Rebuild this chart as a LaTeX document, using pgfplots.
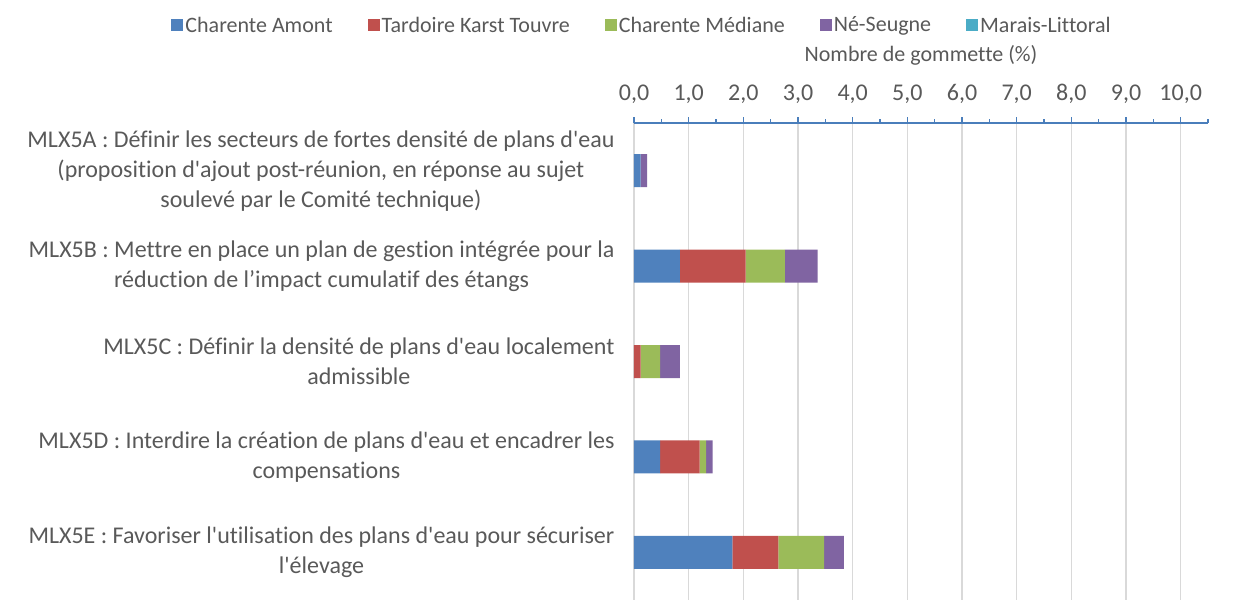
\documentclass[border=0pt]{standalone}
\usepackage{pgfplots}
\pgfplotsset{compat=1.18}
\usepackage{fontspec}
\setmainfont{Carlito}[Ligatures={NoCommon}]

\definecolor{cAmont}{HTML}{4F81BD}
\definecolor{cTard}{HTML}{C0504D}
\definecolor{cMed}{HTML}{9BBB59}
\definecolor{cNe}{HTML}{8064A2}
\definecolor{cMar}{HTML}{4BACC6}
\definecolor{txt}{HTML}{595959}
\definecolor{axl}{HTML}{4A7EBB}
\definecolor{grd}{HTML}{D9D9D9}

\begin{document}
\begin{tikzpicture}
\useasboundingbox (-634pt,-14pt) rectangle (604pt,600pt);
\begin{axis}[
  width=574pt, height=477pt, scale only axis,
  xbar stacked, bar width=33pt,
  xmin=0, xmax=10.5, ymin=-0.5, ymax=4.5, y dir=reverse,
  axis x line*=top, axis y line*=left,
  x axis line style={axl, line width=1.2pt},
  y axis line style={draw=none},
  xtick={0,1,...,10}, minor xtick={0.5,1.5,...,10.5},
  xtick align=outside, major tick length=6pt, minor tick length=4pt,
  xtick style={axl, line width=1.2pt},
  ytick style={draw=none},
  xmajorgrids, major grid style={grd, line width=1.5pt},
  xticklabel style={font=\fontsize{24}{28}\selectfont, text=txt, yshift=10pt},
  /pgf/number format/.cd, fixed, fixed zerofill, precision=1, use comma, assume math mode=true,
  /pgfplots/.cd,
  xlabel={Nombre de gommette (\%)},
  xlabel style={font=\fontsize{22}{26}\selectfont, text=txt, yshift=12pt},
  ytick={0,1,2,3,4},
  yticklabels={
    {MLX5A : Définir les secteurs de fortes densité de plans d\textquotesingle eau\\(proposition d\textquotesingle ajout post-réunion, en réponse au sujet\\soulevé par le Comité technique)},
    {MLX5B : Mettre en place un plan de gestion intégrée pour la\\réduction de l’impact cumulatif des étangs},
    {MLX5C : Définir la densité de plans d\textquotesingle eau localement\\admissible},
    {MLX5D : Interdire la création de plans d\textquotesingle eau et encadrer les\\compensations},
    {MLX5E : Favoriser l\textquotesingle utilisation des plans d\textquotesingle eau pour sécuriser\\l\textquotesingle élevage}},
  yticklabel style={align=center, font=\fontsize{24}{30}\selectfont, text=txt, xshift=-16pt},
  legend columns=5,
  legend style={at={(0.014,1.205)}, anchor=center, draw=none, fill=none,
    font=\fontsize{22}{26}\selectfont, text=txt,
    /tikz/every even column/.append style={column sep=33pt}},
  legend image code/.code={\fill[#1] (0pt,-6pt) rectangle (12pt,6pt);},
]
\addplot[fill=cAmont, draw=none] coordinates {(0.12,0) (0.84,1) (0,2) (0.48,3) (1.8,4)};
\addplot[fill=cTard, draw=none] coordinates {(0,0) (1.2,1) (0.12,2) (0.72,3) (0.84,4)};
\addplot[fill=cMed, draw=none] coordinates {(0,0) (0.72,1) (0.36,2) (0.12,3) (0.84,4)};
\addplot[fill=cNe, draw=none] coordinates {(0.12,0) (0.6,1) (0.36,2) (0.12,3) (0.36,4)};
\addplot[fill=cMar, draw=none] coordinates {(0,0) (0,1) (0,2) (0,3) (0,4)};
\legend{Charente Amont, Tardoire Karst Touvre, Charente Médiane, Né-Seugne, Marais-Littoral}
\end{axis}
\end{tikzpicture}
\end{document}
